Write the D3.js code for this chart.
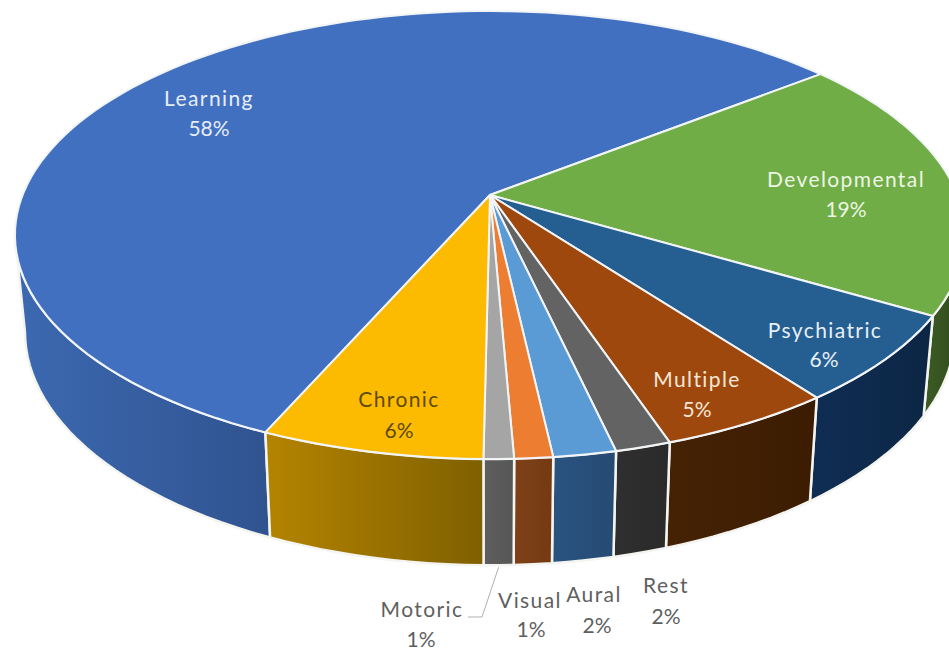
<!DOCTYPE html>
<html>
<head>
<meta charset="utf-8">
<title>Disability categories</title>
<script src="https://cdn.jsdelivr.net/npm/d3@7"></script>
<style>
  html, body { margin: 0; padding: 0; background: #fff; }
  svg { display: block; }
  text { font-family: Lato, "Open Sans", sans-serif; font-size: 21px; text-anchor: middle; }
</style>
</head>
<body>
<svg id="chart" width="949" height="650"></svg>
<script>
// values (the labels round them to whole percents)
var categories = ["Learning", "Developmental", "Psychiatric", "Multiple", "Rest", "Aural", "Visual", "Motoric", "Chronic"];
var shares = [57.8, 19.1, 6.3, 5.05, 1.6, 1.8, 1.1, 0.86, 6.4];

// slice colours: top face, then side wall left and right of the gradient
var topColors = ["#4270c0", "#70ad47", "#255e91", "#9e480e", "#636363", "#5b9bd5", "#ed7d31", "#a5a5a5", "#fcbb00"];
var sideLight = ["#3c69b1", "#3c5c24", "#0f2d54", "#452204", "#2f2f2f", "#2a5380", "#7f4018", "#5e5e5e", "#b58400"];
var sideDark = ["#30538f", "#30491c", "#0c2644", "#3c1c02", "#2a2a2a", "#264b73", "#753a12", "#565656", "#7f6000"];

// label layout: [x, name baseline, x of percent, percent baseline]
var labelSpots = [
  [209, 106, 209, 136], [846, 187, 846, 217], [825, 338, 824, 367],
  [697, 387, 697, 417], [666, 593, 666, 624], [594, 602, 597, 633],
  [530, 608, 531, 637], [422, 617, 421, 647], [399, 407, 399, 438]
];
var labelColors = ["#e6edf8", "#edf5e4", "#e8f0f8", "#f6e6d6", "#5f5f5f", "#5f5f5f", "#5f5f5f", "#5f5f5f", "#5e4a0c"];

var svg = d3.select("#chart");
var deg = Math.PI / 180;
var samples = 6; // rim step in degrees for the polygons

// the disk seen in perspective: the pie centre lands off the ellipse centre
function projectTop(angle, r) {
  var px = r * Math.sin(angle), py = -r * Math.cos(angle);
  var w = 1 - 0.1786 * py;
  return [490 + 467.4 * px / w, (182 * py + 195) / w];
}
// bottom rim of the wall, slightly narrower than the top one
function projectBottom(angle) {
  var p = projectTop(angle, 1);
  return [490 + (p[0] - 490) * 0.979, p[1] * 1.042 + 87];
}

var pie = d3.pie().sort(null).value(function(d) { return d; })
  .startAngle(203.7 * deg).endAngle(563.7 * deg);
var arcs = pie(shares);
var line = d3.line();

function rimAngles(a0, a1) {
  var n = Math.max(2, Math.ceil((a1 - a0) / (samples * deg / 3)));
  return d3.range(n + 1).map(function(i) { return a0 + (a1 - a0) * i / n; });
}

var defs = svg.append("defs");
categories.forEach(function(c, i) {
  var g = defs.append("linearGradient").attr("id", "side" + i);
  g.append("stop").attr("offset", "0%").attr("stop-color", sideLight[i]);
  g.append("stop").attr("offset", "100%").attr("stop-color", sideDark[i]);
});

// side walls first, only the part of the rim that faces the viewer
var frontFrom = 100.3 * deg, frontTo = 259.7 * deg;
arcs.forEach(function(a, i) {
  var start = a.startAngle, end = a.endAngle;
  if (start >= 2 * Math.PI) { start -= 2 * Math.PI; end -= 2 * Math.PI; }
  var a0 = Math.max(start, frontFrom), a1 = Math.min(end, frontTo);
  if (a1 <= a0) { return; }
  var rim = rimAngles(a0, a1);
  var pts = rim.map(function(t) { return projectTop(t, 1); })
    .concat(rim.slice().reverse().map(projectBottom));
  svg.append("path")
    .attr("d", line(pts) + "Z")
    .attr("fill", "url(#side" + i + ")")
    .attr("stroke", "#f4f4f0")
    .attr("stroke-width", 2.5)
    .attr("stroke-linejoin", "round");
});

// top faces
arcs.forEach(function(a, i) {
  var pts = [projectTop(0, 0)].concat(rimAngles(a.startAngle, a.endAngle).map(function(t) {
    return projectTop(t, 1);
  }));
  svg.append("path")
    .attr("d", line(pts) + "Z")
    .attr("fill", topColors[i])
    .attr("stroke", "#f2f5f8")
    .attr("stroke-width", 2)
    .attr("stroke-linejoin", "round");
});

// leader line for the Motoric label
var motoric = categories.indexOf("Motoric");
var motoricMid = (arcs[motoric].startAngle + arcs[motoric].endAngle) / 2;
var leaderFrom = projectBottom(motoricMid);
svg.append("path")
  .attr("d", line([[leaderFrom[0], leaderFrom[1] + 2], [482, 617], [468, 617]]))
  .attr("fill", "none")
  .attr("stroke", "#b0b0b0")
  .attr("stroke-width", 1);

// labels
var pct = d3.format(".0f");
categories.forEach(function(c, i) {
  var s = labelSpots[i];
  svg.append("text").attr("x", s[0]).attr("y", s[1])
    .attr("fill", labelColors[i]).style("letter-spacing", "1.4px").text(c);
  svg.append("text").attr("x", s[2]).attr("y", s[3])
    .attr("fill", labelColors[i]).text(pct(shares[i]) + "%");
});
</script>
</body>
</html>
